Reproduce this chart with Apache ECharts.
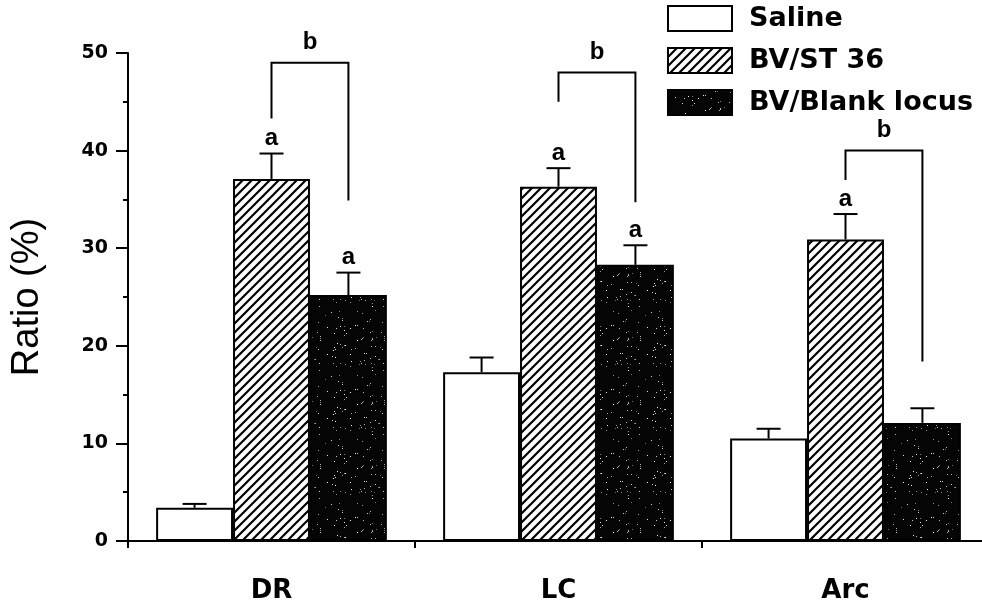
<!DOCTYPE html>
<html>
<head>
<meta charset="utf-8">
<script src="https://cdn.jsdelivr.net/npm/echarts@6/dist/echarts.min.js"></script>
<style>
  html, body { margin: 0; padding: 0; background: #fff; }
  #chart { width: 982px; height: 609px; }
</style>
</head>
<body>
<div id="chart"></div>
<script>
// data
const regions = ['DR', 'LC', 'Arc'];
const groupNames = ['Saline', 'BV/ST 36', 'BV/Blank locus'];
const saline = [3.4, 17.3, 10.5];
const st36 = [37.1, 36.3, 30.9];
const blank = [25.2, 28.3, 12.1];
const salineSem = [0.4, 1.5, 1.0];
const st36Sem = [2.6, 1.9, 2.6];
const blankSem = [2.3, 2.0, 1.5];
const salineMark = ['', '', ''];
const st36Mark = ['a', 'a', 'a'];
const blankMark = ['a', 'a', ''];
// "b" brackets between BV/ST 36 and BV/Blank locus
const bracketTop = [49.0, 48.0, 40.0];
const bracketLeftEnd = [43.3, 45.0, 37.0];
const bracketRightEnd = [34.9, 34.7, 18.4];
const bracketMark = ['b', 'b', 'b'];
const yTicks = [0, 10, 20, 30, 40, 50];

const BAR_FRAC = 0.268;
const SANS = 'Liberation Sans';
const WIDE = 'DejaVu Sans';

function hatchPattern() {
  const s = 9;
  const cv = document.createElement('canvas');
  cv.width = cv.height = s;
  const g = cv.getContext('2d');
  g.fillStyle = '#fff';
  g.fillRect(0, 0, s, s);
  g.strokeStyle = '#000';
  g.lineWidth = 2.2;
  g.beginPath();
  g.moveTo(-1, s + 1); g.lineTo(s + 1, -1);
  g.moveTo(-2, 2); g.lineTo(2, -2);
  g.moveTo(s - 2, s + 2); g.lineTo(s + 2, s - 2);
  g.stroke();
  return cv;
}

function speckPattern() {
  const s = 64;
  const cv = document.createElement('canvas');
  cv.width = cv.height = s;
  const g = cv.getContext('2d');
  g.fillStyle = '#050505';
  g.fillRect(0, 0, s, s);
  let seed = 12345;
  const next = () => { seed = (seed * 1103515245 + 12345) % 2147483648; return seed / 2147483648; };
  for (let i = 0; i < 80; i++) {
    const x = Math.floor(next() * s), y = Math.floor(next() * s);
    const v = 100 + Math.floor(next() * 155);
    g.fillStyle = 'rgb(' + v + ',' + v + ',' + v + ')';
    g.fillRect(x, y, 1, 1);
  }
  return cv;
}

const fills = ['#fff', { image: hatchPattern(), repeat: 'repeat' }, { image: speckPattern(), repeat: 'repeat' }];
const values = [saline, st36, blank];
const sems = [salineSem, st36Sem, blankSem];
const marks = [salineMark, st36Mark, blankMark];

function letterStyle(text) {
  return { text: text, align: 'center', verticalAlign: 'bottom', fill: '#000',
           fontFamily: SANS, fontWeight: 'bold', fontSize: 24 };
}

function errRender(idx) {
  return function (params, api) {
    const c = api.coord([api.value(0), api.value(1)]);
    const t = api.coord([api.value(0), api.value(1) + api.value(2)]);
    const band = api.size([1, 0])[0];
    const x = c[0] + (idx - 1) * band * BAR_FRAC;
    const st = { stroke: '#000', lineWidth: 2 };
    const children = [
      { type: 'line', shape: { x1: x, y1: c[1], x2: x, y2: t[1] }, style: st },
      { type: 'line', shape: { x1: x - 12, y1: t[1], x2: x + 12, y2: t[1] }, style: st }
    ];
    const lab = marks[idx][params.dataIndex];
    if (lab) {
      children.push({ type: 'text', x: x, y: t[1] - 3, style: letterStyle(lab) });
    }
    return { type: 'group', children: children };
  };
}

function bracketRender(params, api) {
  const cat = api.value(0);
  const band = api.size([1, 0])[0];
  const c = api.coord([cat, 0]);
  const xl = c[0];
  const xr = c[0] + band * BAR_FRAC;
  const yt = api.coord([cat, api.value(1)])[1];
  const yl = api.coord([cat, api.value(2)])[1];
  const yr = api.coord([cat, api.value(3)])[1];
  const st = { stroke: '#000', lineWidth: 2, fill: null };
  return {
    type: 'group',
    children: [
      { type: 'polyline', shape: { points: [[xl, yl], [xl, yt], [xr, yt], [xr, yr]] }, style: st },
      { type: 'text', x: (xl + xr) / 2, y: yt - 8, style: letterStyle(bracketMark[params.dataIndex]) }
    ]
  };
}

const series = [];
groupNames.forEach(function (name, i) {
  series.push({
    name: name,
    type: 'bar',
    data: values[i],
    barWidth: (BAR_FRAC * 100) + '%',
    barGap: '0%',
    itemStyle: { color: fills[i], borderColor: '#000', borderWidth: 2 },
    z: 2
  });
});
groupNames.forEach(function (name, i) {
  series.push({
    type: 'custom',
    renderItem: errRender(i),
    data: values[i].map(function (v, k) { return [k, v, sems[i][k]]; }),
    z: 5
  });
});
series.push({
  type: 'custom',
  renderItem: bracketRender,
  data: regions.map(function (r, k) { return [k, bracketTop[k], bracketLeftEnd[k], bracketRightEnd[k]]; }),
  z: 5
});

const chart = echarts.init(document.getElementById('chart'));
chart.setOption({
  animation: false,
  backgroundColor: '#fff',
  grid: { left: 128, right: -7, top: 53, bottom: 68, outerBoundsMode: 'none' },
  legend: {
    orient: 'vertical',
    left: 662,
    top: 0,
    itemWidth: 64,
    itemHeight: 25,
    itemGap: 15,
    icon: 'rect',
    selectedMode: false,
    data: groupNames,
    textStyle: { fontFamily: WIDE, fontWeight: 'bold', fontSize: 27, lineHeight: 25, color: '#000', padding: [0, 0, 0, 12] }
  },
  xAxis: {
    type: 'category',
    data: regions,
    axisLine: { show: true, lineStyle: { color: '#000', width: 2 } },
    axisTick: { show: true, length: 7, lineStyle: { color: '#000', width: 2 } },
    axisLabel: { margin: 37, fontFamily: WIDE, fontWeight: 'bold', fontSize: 26, color: '#000' },
    splitLine: { show: false }
  },
  yAxis: {
    type: 'value',
    min: yTicks[0],
    max: yTicks[yTicks.length - 1],
    interval: 10,
    name: 'Ratio (%)',
    nameLocation: 'middle',
    nameGap: 81,
    nameTextStyle: { fontFamily: SANS, fontSize: 38, color: '#000' },
    axisLine: { show: true, lineStyle: { color: '#000', width: 2 } },
    axisTick: { show: true, length: 12, lineStyle: { color: '#000', width: 2 } },
    minorTick: { show: true, splitNumber: 2, length: 5, lineStyle: { color: '#000', width: 2 } },
    axisLabel: { margin: 20, fontFamily: WIDE, fontWeight: 'bold', fontSize: 19, color: '#000' },
    splitLine: { show: false }
  },
  series: series
});
</script>
</body>
</html>
